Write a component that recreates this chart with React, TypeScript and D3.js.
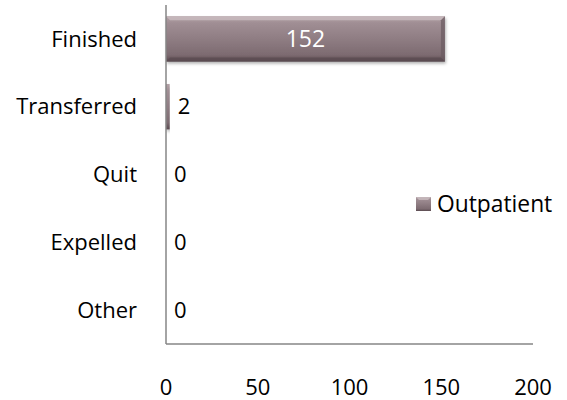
import React from "react";
import * as d3 from "d3";

const categories = ["Finished", "Transferred", "Quit", "Expelled", "Other"];
const values = [152, 2, 0, 0, 0];
const xTicks = [0, 50, 100, 150, 200];
const seriesName = "Outpatient";

const W = 567, H = 400;
const left = 166, right = 533, top = 5, bottom = 344;
const FONT = "'Open Sans', sans-serif";
const FS = 22;

export default function App() {
  const x = d3.scaleLinear().domain([0, 200]).range([left, right]);
  const y = d3.scaleBand().domain(categories).range([top, bottom]).paddingInner(0.33).paddingOuter(0.165);
  return (
    <svg width={W} height={H} style={{ position: "absolute", left: 0, top: 0 }} fontFamily={FONT}>
      <defs>
        <linearGradient id="barG" x1="0" y1="0" x2="0" y2="1">
          <stop offset="0" stopColor="#b5a3a8" />
          <stop offset="0.15" stopColor="#a08e94" />
          <stop offset="0.5" stopColor="#8f7d83" />
          <stop offset="0.85" stopColor="#7d6b71" />
          <stop offset="1" stopColor="#5a4a50" />
        </linearGradient>
        <filter id="sh" x="-5%" y="-20%" width="110%" height="150%">
          <feDropShadow dx="1" dy="2" stdDeviation="1.5" floodColor="#000" floodOpacity="0.3" />
        </filter>
      </defs>
      {categories.map((c, i) => {
        const w = x(values[i]) - x(0);
        const yy = y(c)!;
        const bh = y.bandwidth();
        return (
          <g key={c}>
            {w > 0 && (
              <rect x={x(0)} y={yy} width={w} height={bh} fill="url(#barG)" filter="url(#sh)" />
            )}
            {w > 8 && (
              <>
                <polygon points={`${x(0)},${yy} ${x(0) + w},${yy} ${x(0) + w - 4},${yy + 4} ${x(0) + 4},${yy + 4}`} fill="#c9bbbf" opacity={0.8} />
                <polygon points={`${x(0)},${yy + bh} ${x(0) + w},${yy + bh} ${x(0) + w - 4},${yy + bh - 4} ${x(0) + 4},${yy + bh - 4}`} fill="#5a4a50" opacity={0.7} />
                <polygon points={`${x(0) + w},${yy} ${x(0) + w},${yy + bh} ${x(0) + w - 4},${yy + bh - 4} ${x(0) + w - 4},${yy + 4}`} fill="#6a5a60" opacity={0.7} />
              </>
            )}
            <text x={137} y={yy + bh / 2} dy="0.35em" textAnchor="end" fontSize={FS} fill="#000">{c}</text>
            {values[i] > 50 ? (
              <text x={x(0) + w / 2} y={yy + bh / 2} dy="0.35em" textAnchor="middle" fontSize={FS + 1} fill="#fff">{values[i]}</text>
            ) : (
              <text x={x(values[i]) + 8} y={yy + bh / 2} dy="0.35em" textAnchor="start" fontSize={FS} fill="#000">{values[i]}</text>
            )}
          </g>
        );
      })}
      <line x1={left} x2={left} y1={top} y2={bottom} stroke="#868686" strokeWidth={1.5} />
      <line x1={left} x2={right} y1={bottom} y2={bottom} stroke="#868686" strokeWidth={1.5} />
      {xTicks.map(t => (
        <text key={t} x={x(t)} y={387} dy="0.35em" textAnchor="middle" fontSize={FS} fill="#000">{t}</text>
      ))}
      <rect x={416} y={197} width={15} height={14} fill="url(#barG)" />
      <polygon points="416,197 431,197 428,200 419,200" fill="#c9bbbf" opacity={0.8} />
      <text x={437} y={204} dy="0.35em" fontSize={22.8} fill="#000">{seriesName}</text>
    </svg>
  );
}
